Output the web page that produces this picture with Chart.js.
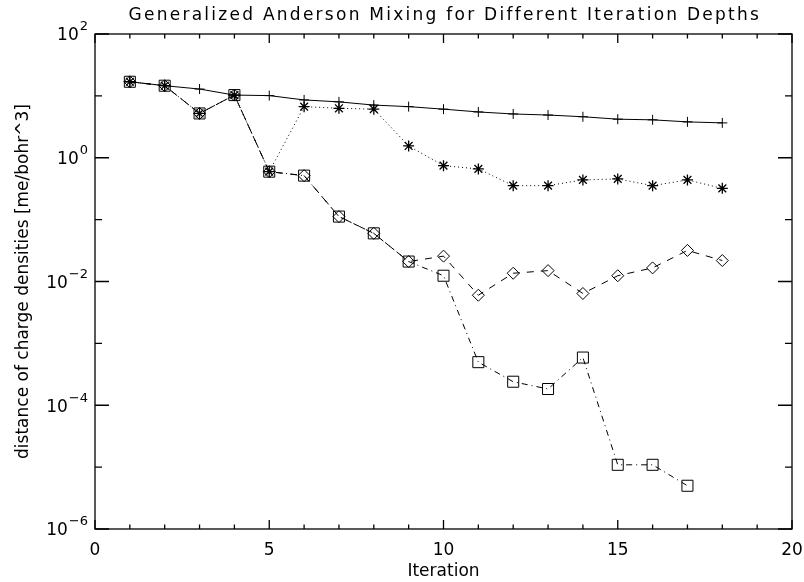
<!DOCTYPE html>
<html>
<head>
<meta charset="utf-8">
<script src="https://cdn.jsdelivr.net/npm/chart.js@4.4.1/dist/chart.umd.min.js"></script>
<style>
  html, body { margin: 0; padding: 0; background: #fff; }
</style>
</head>
<body>
<canvas id="chart" width="804" height="582"></canvas>
<script>
// values (log scale)
const iterations = [1, 2, 3, 4, 5, 6, 7, 8, 9, 10, 11, 12, 13, 14, 15, 16, 17, 18];
const plusValues = [16.9, 14.6, 12.9, 10.3, 10.1, 8.6, 8.0, 7.1, 6.7, 6.1, 5.5, 5.1, 4.9, 4.6, 4.2, 4.1, 3.8, 3.66];
const starValues = [16.9, 14.6, 5.2, 10.3, 0.596, 6.7, 6.3, 6.1, 1.55, 0.745, 0.66, 0.354, 0.354, 0.438, 0.455, 0.354, 0.438, 0.32];
const diamondValues = [16.9, 14.6, 5.2, 10.3, 0.596, 0.514, 0.112, 0.060, 0.021, 0.0257, 0.0060, 0.0136, 0.0150, 0.0064, 0.0124, 0.0166, 0.0318, 0.0218];
const squareValues = [16.9, 14.6, 5.2, 10.3, 0.596, 0.514, 0.112, 0.060, 0.021, 0.0124, 4.97e-4, 2.4e-4, 1.83e-4, 5.9e-4, 1.09e-5, 1.09e-5, 5.0e-6];

const xTicks = [0, 5, 10, 15, 20];
const yExponents = [2, 0, -2, -4, -6];

const chartTitle = "Generalized Anderson Mixing for Different Iteration Depths";
const FONT = "'DejaVu Sans', 'Liberation Sans', sans-serif";

function points(values) {
  return values.map((v, i) => ({ x: iterations[i], y: v }));
}

function series(values, style, radius, dash, markerWidth) {
  return {
    data: points(values),
    borderColor: "#000",
    borderWidth: 1,
    borderDash: dash,
    pointStyle: style,
    pointRadius: radius,
    pointBorderColor: "#000",
    pointBackgroundColor: "rgba(0,0,0,0)",
    pointBorderWidth: markerWidth,
    tension: 0,
  };
}

// IDL style box: inward ticks on all four sides, 10^n labels with superscripts
const idlAxes = {
  id: "idlAxes",
  afterDraw(chart) {
    const { ctx, chartArea: a } = chart;
    const x = chart.scales.x;
    const y = chart.scales.y;
    ctx.save();
    ctx.strokeStyle = "#000";
    ctx.lineWidth = 1.3;
    ctx.strokeRect(a.left, a.top, a.right - a.left, a.bottom - a.top);

    ctx.beginPath();
    for (let v = 0; v <= 20; v++) {
      const px = x.getPixelForValue(v);
      const len = v % 5 === 0 ? 9 : 4.5;
      ctx.moveTo(px, a.bottom);
      ctx.lineTo(px, a.bottom - len);
      ctx.moveTo(px, a.top);
      ctx.lineTo(px, a.top + len);
    }
    for (let e = -6; e <= 2; e++) {
      const py = y.getPixelForValue(Math.pow(10, e));
      const len = e % 2 === 0 ? 14 : 7;
      ctx.moveTo(a.left, py);
      ctx.lineTo(a.left + len, py);
      ctx.moveTo(a.right, py);
      ctx.lineTo(a.right - len, py);
    }
    ctx.stroke();

    ctx.fillStyle = "#000";
    ctx.textBaseline = "middle";
    yExponents.forEach((e) => {
      const py = y.getPixelForValue(Math.pow(10, e));
      const exp = e < 0 ? "\u2212" + Math.abs(e) : String(e);
      const right = a.left - 7;
      ctx.font = "13px " + FONT;
      ctx.textAlign = "right";
      const expW = ctx.measureText(exp).width;
      ctx.fillText(exp, right, py - 7);
      ctx.font = "17px " + FONT;
      ctx.fillText("10", right - expW - 1, py + 2);
    });

    // title, spread wide like the vector font of the original
    ctx.font = "17px " + FONT;
    ctx.textAlign = "left";
    const plain = ctx.measureText(chartTitle).width;
    const spacing = (630 - plain) / (chartTitle.length - 1);
    ctx.letterSpacing = spacing.toFixed(2) + "px";
    const cx = (a.left + a.right) / 2;
    ctx.fillText(chartTitle, cx - 315, 15.5);
    ctx.restore();
  },
};

new Chart(document.getElementById("chart"), {
  type: "line",
  data: {
    datasets: [
      series(plusValues, "cross", 5, [], 1),
      series(starValues, "star", 5.5, [1, 3], 1.3),
      series(diamondValues, "rectRot", 6, [7, 7], 1),
      series(squareValues, "rect", 7.8, [6, 4, 1, 4], 1),
    ],
  },
  options: {
    responsive: false,
    animation: false,
    layout: { padding: { left: 0, right: 12, top: 34, bottom: 0 } },
    plugins: {
      legend: { display: false },
      tooltip: { enabled: false },
      title: { display: false },
    },
    scales: {
      x: {
        type: "linear",
        min: 0,
        max: 20,
        afterBuildTicks(scale) {
          scale.ticks = xTicks.map((v) => ({ value: v }));
        },
        ticks: { color: "#000", font: { family: FONT, size: 17 }, padding: 11 },
        grid: { display: false, drawTicks: false },
        border: { display: false },
        title: {
          display: true,
          text: "Iteration",
          color: "#000",
          font: { family: FONT, size: 17 },
          padding: { top: 0, bottom: 0 },
        },
        afterFit(scale) {
          scale.height = 53;
          scale.paddingLeft = 0;
          scale.paddingRight = 0;
        },
      },
      y: {
        type: "logarithmic",
        min: 1e-6,
        max: 100,
        ticks: { display: false },
        grid: { display: false, drawTicks: false },
        border: { display: false },
        title: {
          display: true,
          text: "distance of charge densities [me/bohr^3]",
          color: "#000",
          font: { family: FONT, size: 17 },
          padding: { top: 13, bottom: 0 },
        },
        afterFit(scale) {
          scale.width = 95;
        },
      },
    },
  },
  plugins: [idlAxes],
});
</script>
</body>
</html>
